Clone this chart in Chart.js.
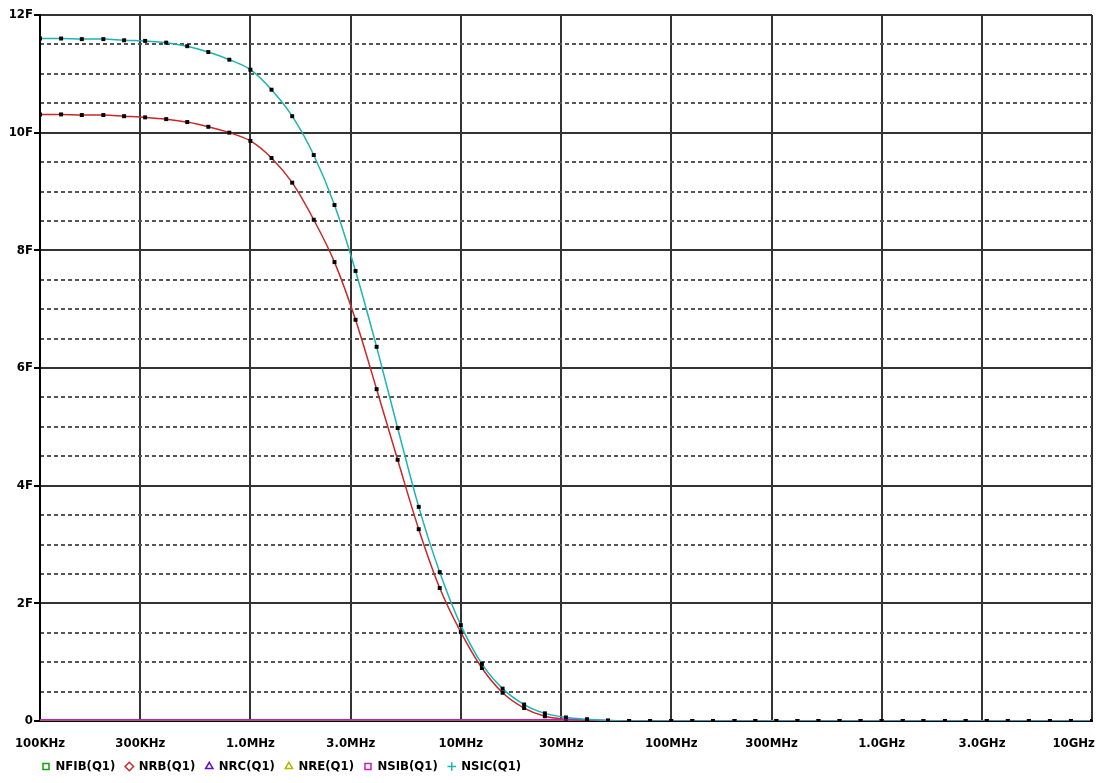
<!DOCTYPE html>
<html>
<head>
<meta charset="utf-8">
<script src="https://cdn.jsdelivr.net/npm/chart.js@4"></script>
<style>
  html, body { margin: 0; padding: 0; background: #fff; }
  #wrap { width: 1098px; height: 783px; }
</style>
</head>
<body>
<div id="wrap"><canvas id="noiseChart" width="1098" height="783"></canvas></div>
<script>
// ===== DATA =====
const freqs = [
  1.0e5, 1.26e5, 1.58e5, 2.0e5, 2.51e5, 3.16e5, 3.98e5, 5.01e5, 6.31e5, 7.94e5,
  1.0e6, 1.26e6, 1.58e6, 2.0e6, 2.51e6, 3.16e6, 3.98e6, 5.01e6, 6.31e6, 7.94e6,
  1.0e7, 1.26e7, 1.58e7, 2.0e7, 2.51e7, 3.16e7, 3.98e7, 5.01e7, 6.31e7, 7.94e7,
  1.0e8, 1.26e8, 1.58e8, 2.0e8, 2.51e8, 3.16e8, 3.98e8, 5.01e8, 6.31e8, 7.94e8,
  1.0e9, 1.26e9, 1.58e9, 2.0e9, 2.51e9, 3.16e9, 3.98e9, 5.01e9, 6.31e9, 7.94e9,
  1.0e10
];

const nsic = [
  11.60, 11.60, 11.59, 11.59, 11.57, 11.56, 11.53, 11.47, 11.37, 11.24,
  11.07, 10.73, 10.28, 9.62, 8.77, 7.65, 6.36, 4.98, 3.64, 2.53,
  1.63, 0.97, 0.55, 0.28, 0.13, 0.06, 0.03, 0.01, 0, 0,
  0, 0, 0, 0, 0, 0, 0, 0, 0, 0,
  0, 0, 0, 0, 0, 0, 0, 0, 0, 0,
  0
];

const nrb = [
  10.31, 10.31, 10.30, 10.30, 10.28, 10.26, 10.23, 10.18, 10.10, 10.00,
  9.86, 9.57, 9.15, 8.52, 7.80, 6.82, 5.64, 4.44, 3.26, 2.26,
  1.51, 0.90, 0.48, 0.22, 0.08, 0.03, 0.01, 0, 0, 0,
  0, 0, 0, 0, 0, 0, 0, 0, 0, 0,
  0, 0, 0, 0, 0, 0, 0, 0, 0, 0,
  0
];

const nsib = [
  0.02, 0.02, 0.02, 0.02, 0.02, 0.02, 0.02, 0.02, 0.02, 0.02,
  0.02, 0.02, 0.02, 0.02, 0.02, 0.02, 0.02, 0.02, 0.02, 0.02,
  0.02, 0.02, 0.02, 0.02, 0.02, 0.02, 0.02, 0.01, 0, 0,
  0, 0, 0, 0, 0, 0, 0, 0, 0, 0,
  0, 0, 0, 0, 0, 0, 0, 0, 0, 0,
  0
];

const zeros = [
  0, 0, 0, 0, 0, 0, 0, 0, 0, 0,
  0, 0, 0, 0, 0, 0, 0, 0, 0, 0,
  0, 0, 0, 0, 0, 0, 0, 0, 0, 0,
  0, 0, 0, 0, 0, 0, 0, 0, 0, 0,
  0, 0, 0, 0, 0, 0, 0, 0, 0, 0,
  0
];

const xTickValues = [1e5, 3e5, 1e6, 3e6, 1e7, 3e7, 1e8, 3e8, 1e9, 3e9, 1e10];
const xTickLabels = ["100KHz", "300KHz", "1.0MHz", "3.0MHz", "10MHz", "30MHz",
                     "100MHz", "300MHz", "1.0GHz", "3.0GHz", "10GHz"];
const yTickLabels = { 0: "0", 2: "2F", 4: "4F", 6: "6F", 8: "8F", 10: "10F", 12: "12F" };

const seriesNames = ["NFIB(Q1)", "NRB(Q1)", "NRC(Q1)", "NRE(Q1)", "NSIB(Q1)", "NSIC(Q1)"];
const seriesColors = ["#10a010", "#c82828", "#5a10c8", "#b8b400", "#c020c0", "#1cb4b4"];
const legendStyles = ["rect", "rectRot", "triangle", "triangle", "rect", "cross"];

function toPoints(values) {
    return values.map((v, i) => ({ x: freqs[i], y: v }));
}

const FONT = "'DejaVu Sans Condensed', 'DejaVu Sans', sans-serif";
// the last x label is pulled left so it stays inside the canvas
const LAST_LABEL_PAD = "\u00a0".repeat(9);

// ===== CHART =====
const ctx = document.getElementById("noiseChart").getContext("2d");

// lower order is drawn on top
const flat = (label, values, color, order) => ({
    label: label,
    data: toPoints(values),
    borderColor: color,
    borderWidth: 1.5,
    pointRadius: 0,
    order: order
});

const curve = (label, values, color, order) => ({
    label: label,
    data: toPoints(values),
    borderColor: color,
    borderWidth: 1.5,
    cubicInterpolationMode: "monotone",
    pointStyle: "rect",
    pointRadius: 2.8,
    pointBackgroundColor: "#000",
    pointBorderWidth: 0,
    order: order
});

// legend sits under the plot area, not at the canvas edge
const legendShift = {
    id: "legendShift",
    beforeDraw(chart) {
        if (chart.legend) chart.legend.left = chart.chartArea.left - 8;
    }
};

const noiseChart = new Chart(ctx, {
    type: "line",
    data: {
        datasets: [
            flat(seriesNames[0], zeros, seriesColors[0], 6),
            curve(seriesNames[1], nrb, seriesColors[1], 2),
            flat(seriesNames[2], zeros, seriesColors[2], 5),
            flat(seriesNames[3], zeros, seriesColors[3], 4),
            flat(seriesNames[4], nsib, seriesColors[4], 1),
            curve(seriesNames[5], nsic, seriesColors[5], 0)
        ]
    },
    plugins: [legendShift],
    options: {
        responsive: false,
        animation: false,
        layout: { padding: { top: 15, right: 6, left: 0, bottom: 0 } },
        plugins: {
            tooltip: { enabled: false },
            legend: {
                position: "bottom",
                align: "start",
                labels: {
                    color: "#000",
                    font: { family: FONT, size: 13, weight: "bold" },
                    usePointStyle: true,
                    boxWidth: 6,
                    boxHeight: 6,
                    padding: 11,
                    generateLabels: (chart) => seriesNames.map((name, i) => ({
                        text: name,
                        fillStyle: "#fff",
                        strokeStyle: seriesColors[i],
                        lineWidth: 1.5,
                        pointStyle: legendStyles[i],
                        fontColor: "#000",
                        hidden: false,
                        datasetIndex: i
                    }))
                }
            }
        },
        scales: {
            x: {
                type: "logarithmic",
                min: 1e5,
                max: 1e10,
                afterBuildTicks: (scale) => {
                    scale.ticks = xTickValues.map(v => ({ value: v }));
                },
                afterFit: (scale) => {
                    scale.height = 28;
                    scale.paddingLeft = 0;
                    scale.paddingRight = 0;
                },
                ticks: {
                    autoSkip: false,
                    maxRotation: 0,
                    padding: 15,
                    color: "#000",
                    font: { family: FONT, size: 13, weight: "bold" },
                    callback: (value, index) =>
                        index === xTickLabels.length - 1
                            ? xTickLabels[index] + LAST_LABEL_PAD
                            : xTickLabels[index]
                },
                grid: {
                    color: "#333",
                    lineWidth: 2,
                    drawTicks: false
                },
                border: { color: "#000", width: 2 }
            },
            y: {
                type: "linear",
                min: 0,
                max: 12,
                afterFit: (scale) => {
                    scale.width = 40;
                    scale.paddingTop = 0;
                    scale.paddingBottom = 0;
                },
                ticks: {
                    stepSize: 2,
                    padding: 1,
                    color: "#000",
                    font: { family: FONT, size: 13, weight: "bold" },
                    callback: (value) => yTickLabels[value]
                },
                grid: {
                    color: "#333",
                    lineWidth: 2,
                    tickLength: 6,
                    tickColor: "#000"
                },
                border: { color: "#000", width: 2 }
            },
            yMinor: {
                type: "linear",
                position: "left",
                min: 0,
                max: 12,
                afterFit: (scale) => { scale.width = 0; },
                ticks: { stepSize: 0.5, display: false },
                grid: {
                    drawTicks: false,
                    lineWidth: 2,
                    color: (c) => (c.tick && c.tick.value % 2 !== 0) ? "#555" : "transparent"
                },
                border: { display: false, dash: [4, 3] }
            }
        }
    }
});
</script>
</body>
</html>
